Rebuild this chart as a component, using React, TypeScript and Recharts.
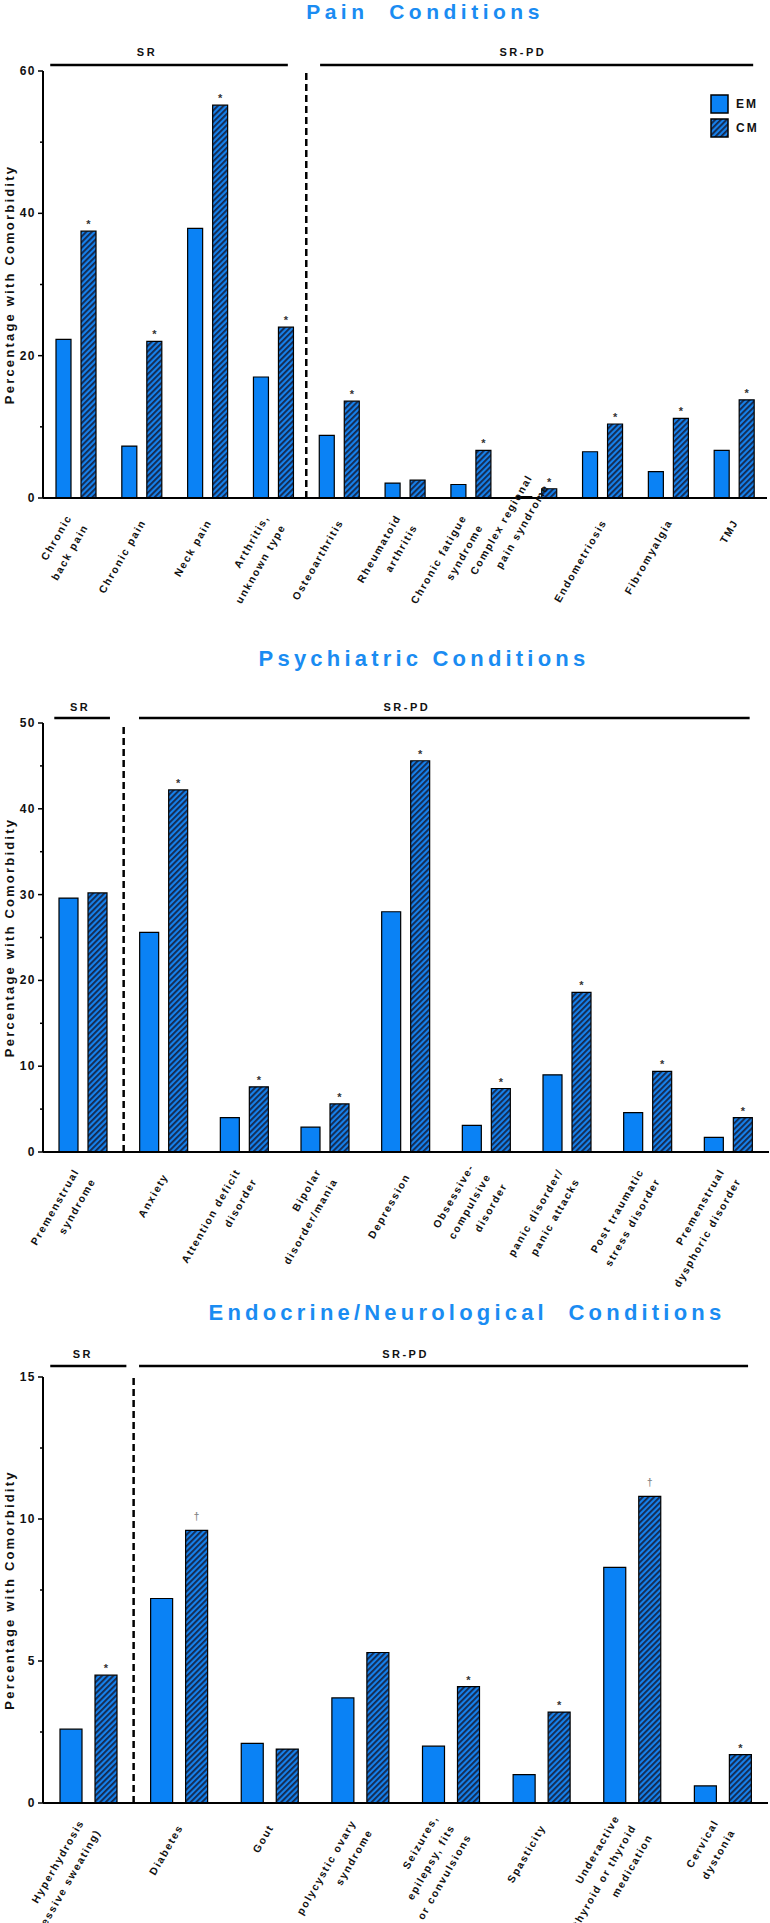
import React from "react";
import { BarChart, Bar, XAxis, YAxis, ReferenceLine, ReferenceDot, LabelList, Legend } from "recharts";

const FONT = '"Liberation Sans", Arial, Helvetica, sans-serif';
const EM_BLUE = "#0a82f5";
const TITLE_BLUE = "#1a8cf2";
const HATCH_BLUE = "#1680ea";
const HATCH_DARK = "#15284c";

// --- Pain conditions
const painCategories = [
    "Chronic\nback pain", "Chronic pain", "Neck pain", "Arthritis,\nunknown type", "Osteoarthritis",
    "Rheumatoid\narthritis", "Chronic fatigue\nsyndrome", "Complex regional\npain syndrome",
    "Endometriosis", "Fibromyalgia", "TMJ",
];
const painEM = [22.3, 7.3, 37.9, 17.0, 8.8, 2.1, 1.9, 0.2, 6.5, 3.7, 6.7];
const painCM = [37.5, 22.0, 55.2, 24.0, 13.6, 2.5, 6.7, 1.3, 10.4, 11.2, 13.8];
const painSig = ["*", "*", "*", "*", "*", "", "*", "*", "*", "*", "*"];
const painTicks = [0, 10, 20, 30, 40, 50, 60];
const painMajor = [0, 20, 40, 60];

// --- Psychiatric conditions
const psychCategories = [
    "Premenstrual\nsyndrome", "Anxiety", "Attention deficit\ndisorder", "Bipolar\ndisorder/mania",
    "Depression", "Obsessive-\ncompulsive\ndisorder", "panic disorder/\npanic attacks",
    "Post traumatic\nstress disorder", "Premenstrual\ndysphoric disorder",
];
const psychEM = [29.6, 25.6, 4.0, 2.9, 28.0, 3.1, 9.0, 4.6, 1.7];
const psychCM = [30.2, 42.2, 7.6, 5.6, 45.6, 7.4, 18.6, 9.4, 4.0];
const psychSig = ["", "*", "*", "*", "*", "*", "*", "*", "*"];
const psychTicks = [0, 5, 10, 15, 20, 25, 30, 35, 40, 45, 50];
const psychMajor = [0, 10, 20, 30, 40, 50];

// --- Endocrine / neurological conditions
const endoCategories = [
    "Hyperhydrosis\n(excessive sweating)", "Diabetes", "Gout", "polycystic ovary\nsyndrome",
    "Seizures,\nepilepsy, fits\nor convulsions", "Spasticity",
    "Underactive\nthyroid or thyroid\nmedication", "Cervical\ndystonia",
];
const endoEM = [2.6, 7.2, 2.1, 3.7, 2.0, 1.0, 8.3, 0.6];
const endoCM = [4.5, 9.6, 1.9, 5.3, 4.1, 3.2, 10.8, 1.7];
const endoSig = ["*", "†", "", "", "*", "*", "†", "*"];
const endoTicks = [0, 2.5, 5, 7.5, 10, 12.5, 15];
const endoMajor = [0, 5, 10, 15];

const LEGEND_ORDER = ["EM", "CM"];

// label that sits higher in the original figure
const LIFTED: Record<string, number> = { "Complex regional\npain syndrome": 40 };

const LINE_H = 19;

function XTick(props: any) {
    const { x, y, payload } = props;
    const lines = String(payload.value).split("\n");
    const n = lines.length;
    const lift = LIFTED[payload.value] ?? 0;
    const ax = x + 1;
    const ay = y + 22 - lift;
    return (
        <g>
            {lines.map((ln, i) => {
                const k = (i - (n - 1) / 2) * LINE_H;
                const tx = ax + k * 0.866;
                const ty = ay + k * 0.5;
                return (
                    <text key={i} x={tx} y={ty} transform={`rotate(-60 ${tx} ${ty})`} textAnchor="end"
                        dominantBaseline="central" fontFamily={FONT} fontWeight={700} fontSize={10.5}
                        letterSpacing={1.6} fill="#111">
                        {ln}
                    </text>
                );
            })}
        </g>
    );
}

function YTick(props: any) {
    const { x, y, payload, major } = props;
    const isMajor = major.includes(payload.value);
    return (
        <g>
            <line x1={x - (isMajor ? 5 : 3)} x2={x} y1={y} y2={y} stroke="#000" strokeWidth={1.5} />
            {isMajor && (
                <text x={x - 7} y={y} textAnchor="end" dominantBaseline="central" fontFamily={FONT}
                    fontWeight={700} fontSize={12} letterSpacing={1.5} fill="#111">
                    {payload.value}
                </text>
            )}
        </g>
    );
}

function SigMark(props: any) {
    const value = props.value;
    if (!value) return null;
    const vb = props.viewBox ?? {};
    const x = props.x ?? vb.x;
    const y = props.y ?? vb.y;
    const w = props.width ?? vb.width;
    const dagger = value === "†";
    return (
        <text x={x + w / 2} y={y - (dagger ? 10 : 3)} textAnchor="middle" fontFamily={FONT}
            fontSize={dagger ? 10 : 11} fontWeight={700} fill={dagger ? "#888" : "#333"}>
            {value}
        </text>
    );
}

function LegendBox({ payload }: any) {
    const items = [...(payload || [])].sort(
        (a: any, b: any) => LEGEND_ORDER.indexOf(a.value) - LEGEND_ORDER.indexOf(b.value)
    );
    return (
        <div style={{ fontFamily: FONT, fontWeight: 700, fontSize: 12, letterSpacing: 2, color: "#111" }}>
            {items.map((entry: any) => (
                <div key={entry.value} style={{ display: "flex", alignItems: "center", height: 24 }}>
                    <svg width={19} height={20}>
                        <rect x={1} y={1} width={17} height={18} fill={entry.color} stroke="#000" strokeWidth={1.5} />
                    </svg>
                    <span style={{ marginLeft: 7 }}>{entry.value}</span>
                </div>
            ))}
        </div>
    );
}

type Group = { label: string; from: number; to: number; at: number };

function Panel(p: any) {
    const {
        id, title, titleX, titleBaseline, titleSize, titleSpacing, top, height, plotTop, plotBottom, right,
        categories, em, cm, sig, ticks, major, barSize, barGap, divider, groups,
        lineLift, labelLift, legend,
    } = p;
    const n = categories.length;
    const yMax = ticks[ticks.length - 1];
    const data = categories.map((name: string, i: number) => ({ name, em: em[i], cm: cm[i], sig: sig[i] }));
    const hatch = `hatch-${id}`;
    // the hidden linear axis spans the category indices 0..n-1 across the plot;
    // convert "band units" (0 = left edge, n = right edge) to that axis
    const u = (v: number) => (v * (n - 1)) / n;

    return (
        <>
            <svg style={{ position: "absolute", left: 0, top: titleBaseline - 24 }} width={770} height={32}>
                <text x={titleX} y={24} textAnchor="middle" fontFamily={FONT} fontWeight={700} fontSize={titleSize}
                    letterSpacing={titleSpacing} fill={TITLE_BLUE} style={{ whiteSpace: "pre" }}>
                    {title}
                </text>
            </svg>
            <div style={{ position: "absolute", left: 0, top, width: 770, height }}>
                <BarChart width={770} height={height} data={data} barSize={barSize} barGap={barGap}
                    margin={{ top: plotTop - top, right, left: 0, bottom: 0 }}>
                    <defs>
                        <pattern id={hatch} patternUnits="userSpaceOnUse" width={4} height={4}
                            patternTransform="rotate(45)">
                            <rect width={4} height={4} fill={HATCH_BLUE} />
                            <line x1={0.9} y1={0} x2={0.9} y2={4} stroke={HATCH_DARK} strokeWidth={1.9} />
                        </pattern>
                    </defs>
                    <XAxis dataKey="name" height={top + height - plotBottom} interval={0} tickSize={0}
                        tickMargin={0} tickLine={false} axisLine={{ stroke: "#000", strokeWidth: 2 }}
                        tick={(t: any) => <XTick {...t} />} />
                    <XAxis xAxisId="n" type="number" domain={[0, n - 1]} allowDataOverflow hide />
                    <YAxis width={43} domain={[0, yMax]} ticks={ticks} interval={0} tickSize={0} tickMargin={0}
                        tickLine={false} axisLine={{ stroke: "#000", strokeWidth: 2 }}
                        tick={(t: any) => <YTick {...t} major={major} />}
                        label={(l: any) => {
                            const vb = l.viewBox;
                            const cx = 9;
                            const cy = vb.y + vb.height / 2;
                            return (
                                <text x={cx} y={cy} transform={`rotate(-90 ${cx} ${cy})`} textAnchor="middle"
                                    dominantBaseline="central" fontFamily={FONT} fontWeight={700} fontSize={13}
                                    letterSpacing={2.2} fill="#111">
                                    Percentage with Comorbidity
                                </text>
                            );
                        }} />
                    <ReferenceLine xAxisId="n" x={u(divider)} stroke="#000" strokeWidth={2.5} strokeDasharray="7 4" />
                    {groups.map((g: Group) => (
                        <ReferenceLine key={g.label} xAxisId="n" ifOverflow="visible"
                            segment={[{ x: u(g.from), y: yMax }, { x: u(g.to), y: yMax }]}
                            shape={(s: any) => (
                                <line x1={s.x1} x2={s.x2} y1={s.y1 - lineLift} y2={s.y2 - lineLift}
                                    stroke="#000" strokeWidth={2.5} />
                            )} />
                    ))}
                    {groups.map((g: Group) => (
                        <ReferenceDot key={"l" + g.label} xAxisId="n" x={u(g.at)} y={yMax} ifOverflow="visible"
                            shape={(d: any) => (
                                <text x={d.cx} y={d.cy - labelLift} textAnchor="middle" dominantBaseline="central"
                                    fontFamily={FONT} fontWeight={700} fontSize={11} letterSpacing={2.5} fill="#111">
                                    {g.label}
                                </text>
                            )} />
                    ))}
                    <Bar dataKey="em" name="EM" fill={EM_BLUE} stroke="#000" strokeWidth={1.2} isAnimationActive={false} />
                    <Bar dataKey="cm" name="CM" fill={`url(#${hatch})`} stroke="#000" strokeWidth={1.2} isAnimationActive={false}>
                        <LabelList dataKey="sig" content={(l: any) => <SigMark {...l} />} />
                    </Bar>
                    {legend && (
                        <Legend layout="vertical" align="center" verticalAlign="middle" content={<LegendBox />}
                            wrapperStyle={{ top: 92 - top, left: 710, width: 60, height: 50 }} />
                    )}
                </BarChart>
            </div>
        </>
    );
}

export default function App() {
    return (
        <div style={{ position: "absolute", left: 0, top: 0, width: 770, height: 1923, background: "#fff", overflow: "hidden" }}>
            <Panel id="pain" title="Pain  Conditions" titleX={425} titleBaseline={19} titleSize={21} titleSpacing={4.5}
                top={0} height={640} plotTop={71} plotBottom={498} right={3}
                categories={painCategories} em={painEM} cm={painCM} sig={painSig}
                ticks={painTicks} major={painMajor} barSize={15} barGap={10} divider={4}
                groups={[
                    { label: "SR", from: 0.11, to: 3.72, at: 1.58 },
                    { label: "SR-PD", from: 4.21, to: 10.79, at: 7.29 },
                ]}
                lineLift={6} labelLift={19} legend />
            <Panel id="psych" title="Psychiatric Conditions" titleX={424} titleBaseline={666} titleSize={22} titleSpacing={4.2}
                top={640} height={650} plotTop={723} plotBottom={1152} right={1}
                categories={psychCategories} em={psychEM} cm={psychCM} sig={psychSig}
                ticks={psychTicks} major={psychMajor} barSize={19} barGap={10} divider={1}
                groups={[
                    { label: "SR", from: 0.14, to: 0.83, at: 0.46 },
                    { label: "SR-PD", from: 1.19, to: 8.76, at: 4.51 },
                ]}
                lineLift={5} labelLift={16} />
            <Panel id="endo" title="Endocrine/Neurological  Conditions" titleX={467} titleBaseline={1320} titleSize={22} titleSpacing={4.2}
                top={1290} height={633} plotTop={1377} plotBottom={1803} right={2}
                categories={endoCategories} em={endoEM} cm={endoCM} sig={endoSig}
                ticks={endoTicks} major={endoMajor} barSize={22} barGap={13} divider={1}
                groups={[
                    { label: "SR", from: 0.08, to: 0.92, at: 0.44 },
                    { label: "SR-PD", from: 1.06, to: 7.78, at: 4.0 },
                ]}
                lineLift={11} labelLift={23} />
        </div>
    );
}
